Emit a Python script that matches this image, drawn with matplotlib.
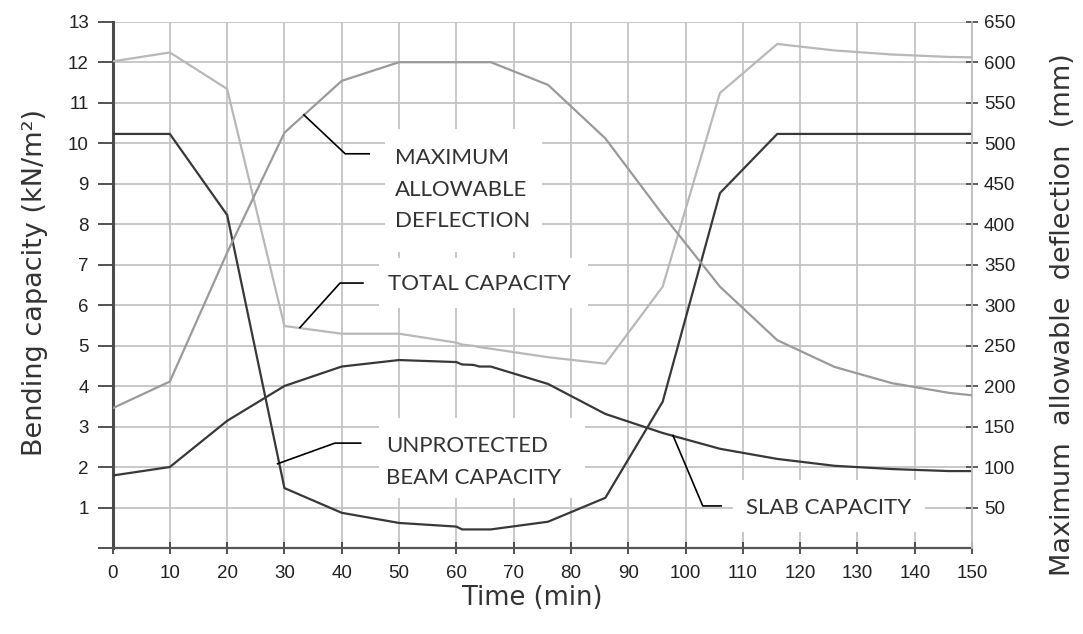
import matplotlib.pyplot as plt
from matplotlib.patches import Rectangle

# time (min) and capacities (kN/m2)
t = [0, 10, 20, 30, 40, 50, 60, 61, 63, 64, 66, 76, 86, 96, 106, 116, 126, 136, 146, 150]
beam = [10.23, 10.23, 8.23, 1.49, 0.88, 0.63, 0.54, 0.47, 0.47, 0.47, 0.47, 0.66, 1.25,
        3.62, 8.77, 10.23, 10.23, 10.23, 10.23, 10.23]
slab = [1.80, 2.01, 3.15, 4.01, 4.49, 4.65, 4.60, 4.54, 4.53, 4.49, 4.49, 4.06, 3.32,
        2.85, 2.46, 2.21, 2.04, 1.96, 1.91, 1.91]
total = [12.02, 12.24, 11.34, 5.49, 5.30, 5.30, 5.08, 5.03, 5.00, 4.97, 4.93, 4.72, 4.56,
         6.46, 11.24, 12.45, 12.29, 12.19, 12.13, 12.12]

# maximum allowable deflection (mm)
t_defl = [0, 10, 20, 30, 40, 50, 60, 66, 76, 86, 96, 106, 116, 126, 136, 146, 150]
defl = [173, 206, 365, 513, 577, 600, 600, 600, 572, 506, 412, 323, 257, 224, 204, 192, 189]

x_ticks = list(range(0, 151, 10))
left_ticks = list(range(0, 14))
right_ticks = list(range(50, 651, 50))

dark = '#383838'
grid_c = '#c4c4c4'

fig = plt.figure(figsize=(10.83, 6.34), dpi=100)
ax = fig.add_axes([0.1039, 0.1349, 0.7937, 0.8309])
ax2 = ax.twinx()

ax.set_xlim(0, 150)
ax.set_ylim(0, 13)
ax2.set_ylim(0, 650)

ax.set_xticks(x_ticks)
ax.set_yticks(left_ticks)
ax.set_yticklabels([''] + [str(v) for v in left_ticks[1:]])
ax2.set_yticks(right_ticks)

ax.grid(True, color=grid_c, linewidth=1.3, zorder=0)
ax.set_axisbelow(True)

ax.tick_params(axis='y', direction='out', length=11, width=1.3, color='#444444', pad=6,
               labelsize=13.5, labelcolor='#222222', labelfontfamily='Liberation Sans')
ax.tick_params(axis='x', direction='inout', length=8, width=1.3, color='#444444', pad=8,
               labelsize=13.5, labelcolor='#222222', labelfontfamily='Liberation Sans')
ax2.tick_params(axis='y', direction='inout', length=9, width=1.2, color='#444444', pad=4,
                labelsize=13.5, labelcolor='#222222', labelfontfamily='Liberation Sans')

for a in (ax, ax2):
    a.spines['top'].set_visible(False)
ax.spines['right'].set_visible(False)
ax.spines['left'].set_color('#4a4a4a')
ax.spines['left'].set_linewidth(2.2)
ax.spines['bottom'].set_color('#555555')
ax.spines['bottom'].set_linewidth(1.6)
ax2.spines['left'].set_visible(False)
ax2.spines['bottom'].set_visible(False)
ax2.spines['right'].set_color('#bdbdbd')
ax2.spines['right'].set_linewidth(1.3)

ax.plot(t, beam, color=dark, linewidth=1.6, zorder=3)
ax.plot(t, slab, color=dark, linewidth=1.6, zorder=3)
ax.plot(t, total, color='#b8b8b8', linewidth=1.6, zorder=3)
ax2.plot(t_defl, defl, color='#9a9a9a', linewidth=1.6, zorder=3)

# white boxes behind the labels (cover the grid)
boxes = [(47.6, 7.32, 27.4, 3.04), (46.5, 5.94, 36.5, 1.23),
         (46.5, 1.25, 36.0, 1.97), (108.3, 0.41, 33.5, 1.28)]
for bx, by, bw, bh in boxes:
    ax.add_patch(Rectangle((bx, by), bw, bh, facecolor='white', edgecolor='none', zorder=1))

# leader lines
leaders = [
    ([33.4, 40.6, 44.8], [10.70, 9.74, 9.74]),
    ([32.7, 39.7, 43.7], [5.45, 6.55, 6.55]),
    ([28.8, 38.8, 43.3], [2.09, 2.60, 2.60]),
    ([97.8, 103.0, 106.2], [2.79, 1.05, 1.05]),
]
for lx, ly in leaders:
    ax2.plot(lx, ly, color='black', linewidth=1.2, transform=ax.transData, zorder=5)

txt = dict(family='Lato', fontsize=16, color='#333333', ha='left', va='center',
           transform=ax.transData, zorder=6)
ax2.text(49.3, 8.85, 'MAXIMUM\nALLOWABLE\nDEFLECTION', linespacing=1.72, **txt)
ax2.text(48.1, 6.53, 'TOTAL CAPACITY', **txt)
ax2.text(47.7, 2.14, 'UNPROTECTED\nBEAM CAPACITY', linespacing=1.72, **txt)
ax2.text(110.6, 1.01, 'SLAB CAPACITY', **txt)

fig.text(532 / 1083, 1 - 598 / 634, 'Time (min)', ha='center', va='center',
         fontsize=18.5, color='#333333', family='DejaVu Sans')
fig.text(35 / 1083, 1 - 283 / 634, 'Bending capacity (kN/m²)', ha='center', va='center',
         rotation=90, fontsize=19.5, color='#333333', family='DejaVu Sans')
fig.text(1063 / 1083, 1 - 315 / 634, 'Maximum  allowable  deflection  (mm)', ha='center',
         va='center', rotation=90, fontsize=19.5, color='#333333', family='DejaVu Sans')

fig.savefig('out.png', dpi=100)
